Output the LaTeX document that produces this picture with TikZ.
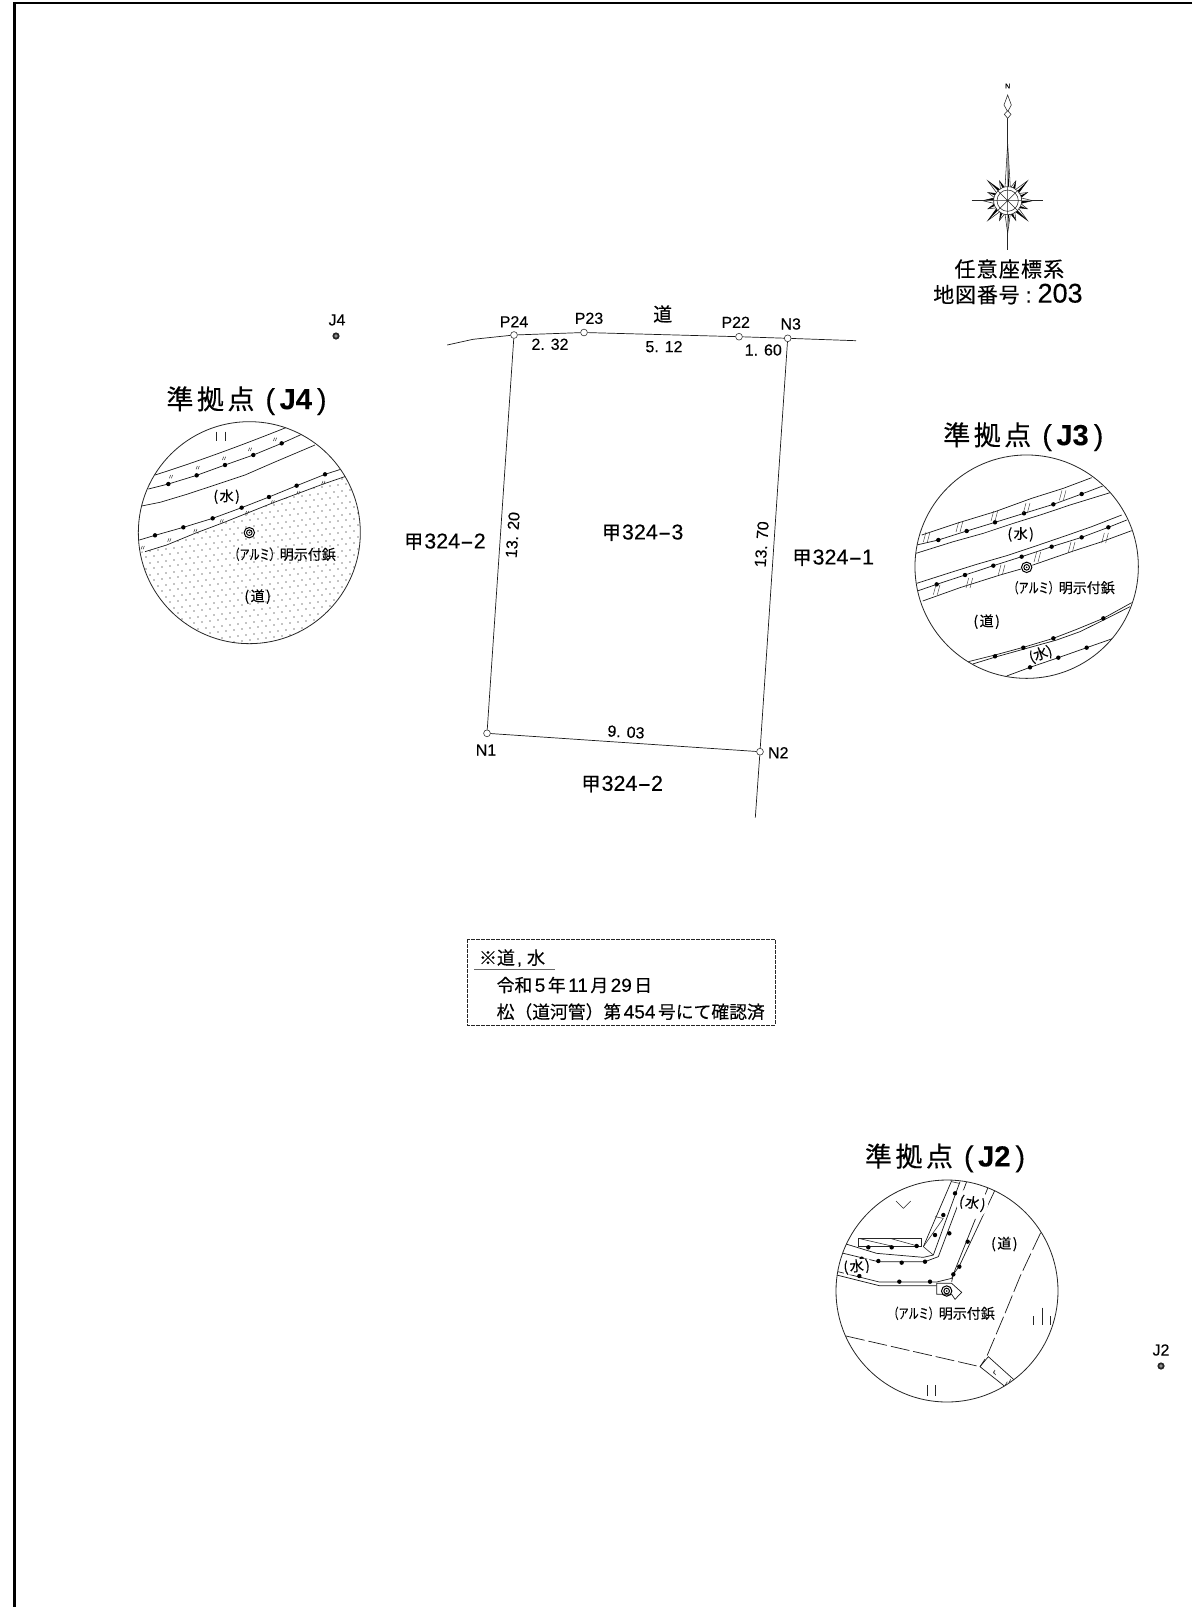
\documentclass[tikz,border=0pt]{standalone}
\usepackage{fontspec}
\usepackage{graphicx}
\setmainfont[FakeBold=.25]{Liberation Sans}
\newfontfamily\cj[FakeBold=.3]{Noto Sans CJK JP}
\newcommand\fz[1]{\fontsize{#1}{#1}\selectfont}
\newcommand\J[1]{{\cj #1}}
\newcommand\hy{\scalebox{1.9}[1]{-}}
\newcommand\ko[1]{{\fz{19}\J{甲}\kern1pt\fz{21.5}324\hy #1}}
\newcommand\hd[1]{{\fz{27}\J{準\kern3.5pt拠\kern3.5pt点\kern11pt}\fz{29}(\kern4.5pt\textbf{#1}\kern5pt)}}
\newcommand\paren[1]{{\fz{14}\J{(\kern1.5pt#1\kern1.5pt)}}}
\newcommand\alu{{\fz{14}\J{\scalebox{.72}[1]{（アルミ）}明示付鋲}}}
\tikzset{
  ln/.style={line width=.7pt,black!90},
  fin/.style={line width=.55pt,black!85},
  rim/.style={line width=.8pt,black!85},
  txt/.style={inner sep=0pt,outer sep=0pt,align=center},
  pt/.style={circle,draw=black!80,line width=.6pt,inner sep=0pt,minimum size=6.8pt,fill=white,
    path picture={\fill (path picture bounding box.center) circle (.6pt);}},
  zm/.style 2 args={shift={(#1,#2)},x=.33333pt,y=-.33333pt},
  plabel/.style={txt,font=\fz{16}},
  klabel/.style={txt},
}
\newcommand\dotsat[1]{\foreach \x/\y in {#1} \fill (\x,\y) circle (2.2pt);}
\newcommand\ticksat[1]{\foreach \x/\y in {#1} {\draw[line width=.5pt,black!80] (\x-5,\y+5) -- (\x-1,\y-5) (\x+1,\y+5) -- (\x+5,\y-5);}}
\newcommand\slashat[1]{\foreach \x/\y in {#1} {\draw[line width=.45pt,black!75] (\x-10,\y+16) -- (\x-2,\y-14) (\x+2,\y+16) -- (\x+10,\y-14);}}
\newcommand\marker[2]{\draw[line width=1pt] (#1,#2) circle (5.2pt) circle (2.8pt); \fill (#1,#2) circle (.9pt);}
\newcommand\jmark[2]{\fill[black!85] (#1,#2) circle (3.6pt); \draw[white,line width=.4pt] (#1,#2) circle (1.4pt);}
\begin{document}
\begin{tikzpicture}[x=1pt,y=-1pt]
\useasboundingbox (0,0) rectangle (1192,1607);
\fill[white] (0,0) rectangle (1192,1607);
% sheet frame
\draw[line width=2.2pt] (1192,3) -- (14.5,3) -- (14.5,1607);

% north mark
\begin{scope}[zm={920}{70}]
  \node[txt,font=\fz{7}] (north) at (263,48) {N};
  \draw[fin] (263,125) -- (263,540) (155,392) -- (370,392);
  \draw[fin,fill=white] (263,75) -- (252,105) -- (263,125) -- (274,105) -- cycle;
  \draw[fin,fill=white] (263,122) -- (253,133) -- (263,145) -- (273,133) -- cycle;
  \begin{scope}[shift={(263,392)}]
  \foreach \a in {45,135,225,315} {
    \draw[fin,fill=white] (\a-10:40) -- (\a:84) -- (\a+10:40) -- cycle;
    \fill (\a:40) -- (\a:84) -- (\a+10:40) -- cycle;
  }
  \foreach \a in {22.5,67.5,...,337.5} {
    \draw[fin,fill=white] (\a-10:40) -- (\a:64) -- (\a+10:40) -- cycle;
    \fill (\a:40) -- (\a:64) -- (\a+10:40) -- cycle;
  }
  \foreach \a in {0,180} {
    \draw[fin,fill=white] (\a-11:42) -- (\a:75) -- (\a+11:42) -- cycle;
    \fill (\a:42) -- (\a:75) -- (\a+11:42) -- cycle;
  }
  \end{scope}
  \draw[fin,fill=white] (255,352) -- (263,220) -- (271,352) -- cycle;
  \fill (263,352) -- (263,220) -- (267,352) -- cycle;
  \draw[fin,fill=white] (255,432) -- (263,490) -- (271,432) -- cycle;
  \fill (263,432) -- (263,490) -- (267,432) -- cycle;
  \draw[fin,fill=white] (263,392) circle (42);
  \draw[fin] (263,392) circle (32);
  \draw[fin] (263,350) -- (263,434) (221,392) -- (305,392) (233,362) -- (293,422) (233,422) -- (293,362);
  \node[txt,font=\fz{21},anchor=center] (crs) at (268,597) {\J{任\kern1.2pt意\kern1.2pt座\kern1.2pt標\kern1.2pt系}};
  \node[txt,font=\fz{21},anchor=west] (mapno) at (40,672) {\J{地\kern.8pt図\kern.8pt番\kern.8pt号}\kern6pt:\kern6pt{\fz{27}203}};
\end{scope}

% parcel
\node[pt] (P24) at (514,335) {};
\node[pt] (P23) at (584,332.5) {};
\node[pt] (P22) at (739,336.7) {};
\node[pt] (N3) at (787.7,338.3) {};
\node[pt] (N1) at (487,733.3) {};
\node[pt] (N2) at (760,751.7) {};
\coordinate (RL1) at (447.3,345);
\coordinate (RL2) at (473,339.3);
\coordinate (RR) at (856,340.7);
\coordinate (SE) at (755.3,817.7);
\draw[ln] (RL1) -- (RL2) -- (P24);
\draw[ln] (P24) -- (P23);
\draw[ln] (P23) -- (P22);
\draw[ln] (P22) -- (N3);
\draw[ln] (N3) -- (RR);
\draw[ln] (P24) -- (N1);
\draw[ln] (N1) -- (N2);
\draw[ln] (N3) -- (N2);
\draw[ln] (N2) -- (SE);

\node[plabel] (lP24) at (514,321.7) {P24};
\node[plabel] (lP23) at (589,318.3) {P23};
\node[plabel] (lP22) at (735.7,322.3) {P22};
\node[plabel] (lN3) at (790.7,324) {N3};
\node[plabel] (lN1) at (486,750) {N1};
\node[plabel] (lN2) at (778.3,752.7) {N2};
\node[txt,font=\fz{19}] (lroad) at (662.7,314) {\J{道}};
\node[plabel] (d1) at (550,344.3) {2. 32};
\node[plabel] (d2) at (664,346.7) {5. 12};
\node[plabel] (d3) at (763.3,350) {1. 60};
\node[plabel,rotate=86] (d4) at (512.7,535) {13. 20};
\node[plabel,rotate=86] (d5) at (761.7,544.3) {13. 70};
\node[plabel,rotate=-3.5] (d6) at (626,732) {9. 03};
\node[klabel] (k1) at (445,541.7) {\ko{2}};
\node[klabel] (k2) at (642.7,532.7) {\ko{3}};
\node[klabel] (k3) at (833.3,557.7) {\ko{1}};
\node[klabel] (k4) at (622.3,784) {\ko{2}};

% remote points
\jmark{336}{336}
\node[plabel] (lJ4) at (337,320) {J4};
\jmark{1161}{1366}
\node[plabel] (lJ2) at (1161,1350) {J2};

% note box
\draw[line width=.6pt,dash pattern=on 3.5pt off 1.5pt,black!85] (467.3,939) rectangle (775,1025);
\draw[line width=1pt,black!60] (474,969.3) -- (555,969.3);
\node[txt,anchor=west,font=\fz{18}] (n1) at (479,958) {\J{※道}\kern2pt,\kern5pt\J{水}};
\node[txt,anchor=west,font=\fz{17.8}] (n2) at (496.7,985) {\J{令和}\kern2.5pt{\fz{19}5}\kern2.5pt\J{年}\kern2.5pt{\fz{19}11}\kern2.5pt\J{月}\kern2.5pt{\fz{19}29}\kern2.5pt\J{日}};
\node[txt,anchor=west,font=\fz{17.8}] (n3) at (496.7,1011.7) {\J{松（道河管）第}\kern2.5pt{\fz{19}454}\kern2.5pt\J{号にて確認済}};

% detail J4
\node[txt,anchor=west] (h4) at (166.5,400.7) {\hd{J4}};
\begin{scope}[zm={120}{370}]
  \begin{scope}
    \clip (388,488) circle (111pt);
    \clip (60,547) -- (140,525) -- (225,490) -- (310,458) -- (380,430) -- (460,398) -- (535,370) -- (610,342) -- (690,318) -- (800,318) -- (800,900) -- (0,900) -- (0,547) -- cycle;
    \foreach \r in {0,...,32} \foreach \c in {0,...,32} {
      \fill[black] ({30+\c*24+mod(\r,2)*12},{315+\r*18-\c*3}) circle (.6pt);
    }
  \end{scope}
  \begin{scope}
    \clip (388,488) circle (111pt);
    \draw[ln] (105,315) .. controls (200,285) and (330,240) .. (500,172);
    \draw[ln] (85,357) -- (145,342) -- (230,316) -- (315,285) -- (400,255) -- (485,220) -- (545,193);
    \draw[ln] (65,408) -- (120,397) -- (200,373) -- (285,345) -- (375,315) -- (460,278) -- (585,225);
    \draw[ln] (58,510) -- (105,496) -- (190,472) -- (278,445) -- (365,413) -- (447,381) -- (530,347) -- (615,313) -- (665,297);
    \draw[ln] (75,545) -- (140,525) -- (225,490) -- (310,458) -- (380,430) -- (460,398) -- (535,370) -- (610,342) -- (680,318);
    \dotsat{145/342,230/316,315/285,400/255,485/220,105/496,190/472,278/445,365/413,447/381,530/347,615/313}
    \ticksat{153/320,233/293,312/265,390/238,465/208,68/533,148/510,226/482,305/453,381/428,458/396,535/368,610/338}
    \draw[fin] (288,185) -- (288,213) (315,185) -- (315,213);
    \marker{388}{488}
  \end{scope}
  \node[txt] (w41) at (320,380) {\paren{水}};
  \node[txt] (w42) at (413,680) {\paren{道}};
  \node[txt] (w43) at (488,553) {\alu};
  \draw[rim] (388,488) circle (111pt);
\end{scope}

% detail J3
\node[txt,anchor=west] (h3) at (943.3,436.7) {\hd{J3}};
\begin{scope}[zm={900}{410}]
  \begin{scope}
    \clip (380,470) circle (111.7pt);
    \draw[ln] (65,375) -- (170,340) -- (285,305) -- (395,265) -- (490,235) -- (575,203);
    \draw[ln] (50,405) -- (115,390) -- (200,363) -- (285,337) -- (372,310) -- (460,283) -- (545,252) -- (608,228);
    \draw[ln] (48,430) -- (160,395) -- (250,370) -- (340,340) -- (430,312) -- (510,285) -- (640,245);
    \draw[ln] (50,520) -- (150,488) -- (230,463) -- (320,437) -- (410,407) -- (495,378) -- (575,350) -- (665,315);
    \draw[ln] (52,543) -- (110,523) -- (195,495) -- (280,467) -- (365,440) -- (455,410) -- (545,382) -- (625,352) -- (680,330);
    \draw[ln] (68,573) -- (180,533) -- (300,495) -- (370,475) -- (520,423) -- (600,397) -- (695,362);
    \draw[ln] (205,755) -- (285,735) -- (370,712) -- (460,685) -- (530,658) -- (610,625) -- (695,578);
    \draw[ln] (218,762) -- (290,740) -- (380,715) -- (470,690) -- (540,665) -- (615,628) -- (690,590);
    \draw[ln] (320,798) -- (390,772) -- (475,743) -- (560,713) -- (640,685) -- (695,665);
    \dotsat{115/390,200/363,285/337,372/310,460/283,545/252,110/523,195/495,280/467,365/440,455/410,545/382,625/352,285/739,370/713,460/685,610/625,390/772,475/743,560/713}
    \slashat{80/380,178/350,283/317,380/293,488/255,110/538,208/518,305/478,412/440,515/410,615/383}
    \fill[white] (380,472) circle (6pt);
    \marker{380}{472}
  \end{scope}
  \node[txt] (w31) at (362,373) {\paren{水}};
  \node[txt,rotate=20] (w32) at (422,733) {{\fz{14}\J{(水)}}};
  \node[txt] (w33) at (260,635) {\paren{道}};
  \node[txt] (w34) at (485,533) {\alu};
  \draw[rim] (380,470) circle (111.7pt);
\end{scope}

% detail J2
\node[txt,anchor=west] (h2) at (865,1158) {\hd{J2}};
\begin{scope}[zm={820}{1140}]
  \begin{scope}
    \clip (381,453) circle (111pt);
    \draw[ln] (50,405) -- (178,437) -- (350,437);
    \draw[ln] (50,394) -- (178,426) -- (350,426) -- (395,415);
    \draw[ln] (62,338) -- (175,365) -- (315,365) -- (355,350) -- (440,125);
    \draw[ln] (78,312) -- (170,340) -- (310,352) -- (340,345) -- (420,125);
    \draw[ln] (310,320) -- (395,122);
    \draw[fin] (115,295) -- (305,295) -- (305,320) -- (115,320) -- cycle;
    \draw[fin] (115,295) -- (215,318) (210,295) -- (300,320);
    \draw[fin] (345,230) -- (370,235) (395,125) -- (418,130) (310,320) -- (370,235) (310,320) -- (340,345);
    \draw[ln] (395,425) -- (400,403) -- (418,378) -- (525,150);
    \draw[ln] (395,415) -- (505,140);
    \draw[ln,fill=white] (350,430) -- (350,463) -- (395,463) -- (405,478) -- (425,457) -- (395,430) -- cycle;
    \dotsat{118/408,238/425,330/425,145/322,215/322,290/318,125/356,245/368,175/363,315/365,345/285,388/280,405/160,370/225,400/403,418/380,443/305,480/218}
    \marker{380}{453}
    \draw[line width=.7pt,black!90,dash pattern=on 19pt off 4pt] (662,278) -- (600,410) -- (555,520) -- (500,650) -- (480,680);
    \draw[line width=.7pt,black!90,dash pattern=on 19pt off 4pt] (78,588) -- (480,680);
    \draw[ln] (480,680) -- (505,650) -- (585,722);
    \draw[ln] (480,680) -- (558,742);
    \draw[fin] (520,695) -- (527,705) (525,690) -- (520,700) (562,725) -- (556,735) (572,718) -- (566,730);
    \draw[fin] (228,183) -- (250,205) -- (272,183);
    \draw[fin] (640,528) -- (640,555) (668,503) -- (668,555) (692,528) -- (692,555);
    \draw[fin] (322,735) -- (322,768) (347,735) -- (347,768);
    \node[txt,circle,fill=white,inner sep=.5pt,rotate=-10] (w21) at (457,190) {\paren{水}};
  \end{scope}
  \node[txt,fill=white,rotate=5] (w22) at (110,380) {\paren{水}};
  \node[txt] (w23) at (553,312) {\paren{道}};
  \node[txt] (w24) at (365,520) {\alu};
  \draw[rim] (381,453) circle (111pt);
\end{scope}
\end{tikzpicture}
\end{document}
